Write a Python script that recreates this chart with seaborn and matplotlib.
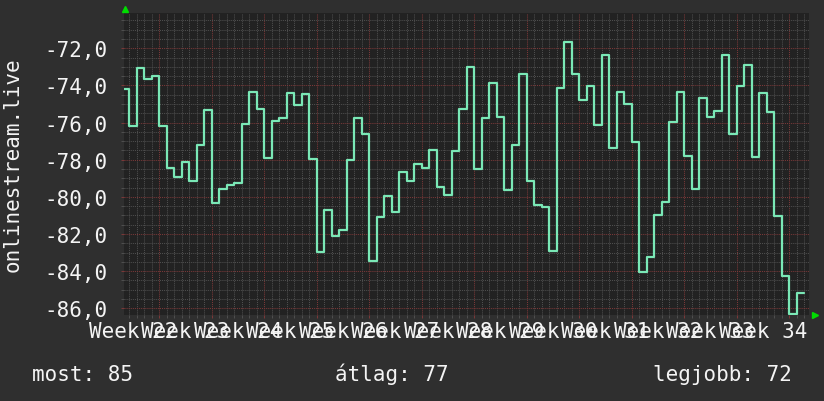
import numpy as np
import pandas as pd
import matplotlib
matplotlib.use("Agg")
import matplotlib.pyplot as plt
from matplotlib.ticker import MultipleLocator, FuncFormatter, NullLocator
import seaborn as sns

# daily samples, day 0 = first day of week 23
days = np.arange(-5, 86)
signal = [-74.19, -76.17, -73.06, -73.63, -73.47, -76.17, -78.45, -78.91, -78.10, -79.13,
          -77.19, -75.30, -80.31, -79.58, -79.34, -79.24, -76.06, -74.33, -75.25, -77.89,
          -75.90, -75.73, -74.41, -75.05, -74.46, -77.94, -82.97, -80.71, -82.11, -81.78,
          -78.01, -75.75, -76.61, -83.44, -81.08, -79.95, -80.80, -78.66, -79.15, -78.23,
          -78.45, -77.48, -79.47, -79.88, -77.53, -75.27, -73.01, -78.50, -75.73, -73.85,
          -75.70, -79.63, -77.19, -73.36, -79.15, -80.44, -80.55, -82.92, -74.14, -71.64,
          -73.36, -74.76, -74.03, -76.13, -72.34, -77.35, -74.33, -75.00, -77.03, -84.05,
          -83.22, -80.98, -80.26, -75.95, -74.33, -77.78, -79.58, -74.68, -75.68, -75.36,
          -72.34, -76.60, -74.03, -72.88, -77.83, -74.41, -75.41, -81.01, -84.24, -86.31,
          -85.16]
week_numbers = [22, 23, 24, 25, 26, 27, 28, 29, 30, 31, 32, 33, 34]
week_labels = ["Week %d" % w for w in week_numbers]
stat_names = ["most", "átlag", "legjobb"]
stat_values = [85, 77, 72]
series_name = "onlinestream.live"

BACK = "#2f2f2f"
CANVAS = "#222222"
GRID = "#4e4e4e"
MGRID = "#7a3838"
LINE = "#7ae8b6"
TXT = "#f4f4f4"
ARROW = "#00dd00"

sns.set_theme(style="dark", rc={"axes.facecolor": CANVAS, "figure.facecolor": BACK})
plt.rcParams["font.family"] = ["DejaVu Sans Mono"]

# last step needs an end point
df = pd.DataFrame({"day": np.append(days, days[-1] + 1),
                   "value": np.append(signal, signal[-1])})

fig = plt.figure(figsize=(8.24, 4.02), dpi=100)
ax = fig.add_axes([124 / 824, 86 / 402, 685 / 824, 302 / 402])

sns.lineplot(data=df, x="day", y="value", ax=ax, color=LINE, linewidth=1.6,
             drawstyle="steps-post", estimator=None, sort=False, zorder=3)

ax.set_xlim(-4.71, 86.63)
ax.set_ylim(-86.36, -70.10)

ax.xaxis.set_major_locator(MultipleLocator(7))
ax.xaxis.set_minor_locator(MultipleLocator(1))
ax.yaxis.set_major_locator(MultipleLocator(2))
ax.yaxis.set_minor_locator(MultipleLocator(0.5))
ax.yaxis.set_major_formatter(FuncFormatter(lambda v, p: ("%.1f" % v).replace(".", ",")))

ax.grid(which="minor", color=GRID, linestyle=(0, (1, 1)), linewidth=0.75)
ax.grid(which="major", color=MGRID, linestyle=(0, (1, 1)), linewidth=0.75)
ax.set_axisbelow(True)
for s in ax.spines.values():
    s.set_visible(False)

ax.tick_params(which="both", direction="out", bottom=True, left=True)
ax.tick_params(which="minor", color=GRID, length=2.2, width=0.75)
ax.tick_params(which="major", color=MGRID, length=2.2, width=0.75)
ax.tick_params(axis="x", labelbottom=False)
ax.tick_params(axis="y", labelsize=15, labelcolor=TXT, pad=10)

ax.set_xlabel("")
ax.set_ylabel(series_name, fontsize=15, color=TXT)
ax.yaxis.label.set_va("center")
ax.yaxis.set_label_coords(-0.163, 0.5)

# week labels sit in the middle of each week
sec = ax.secondary_xaxis("bottom")
sec.set_xticks([(w - 23) * 7 + 3.5 for w in week_numbers], week_labels)
sec.xaxis.set_minor_locator(NullLocator())
sec.tick_params(length=0, pad=4, labelsize=15, labelcolor=TXT)
sec.spines["bottom"].set_visible(False)

# axis arrows
ax.plot([0.0015], [1.013], marker="^", markersize=4, color=ARROW,
        transform=ax.transAxes, clip_on=False)
ax.plot([1.0088], [0.0], marker=">", markersize=4, color=ARROW,
        transform=ax.transAxes, clip_on=False)

texts = ["%s: %d" % (n, v) for n, v in zip(stat_names, stat_values)]
fig.text(32 / 824, 21 / 402, texts[0], ha="left", va="baseline", fontsize=15, color=TXT)
fig.text(391.5 / 824, 21 / 402, texts[1], ha="center", va="baseline", fontsize=15, color=TXT)
fig.text(792 / 824, 21 / 402, texts[2], ha="right", va="baseline", fontsize=15, color=TXT)

fig.savefig("out.png", dpi=100, facecolor=BACK)
